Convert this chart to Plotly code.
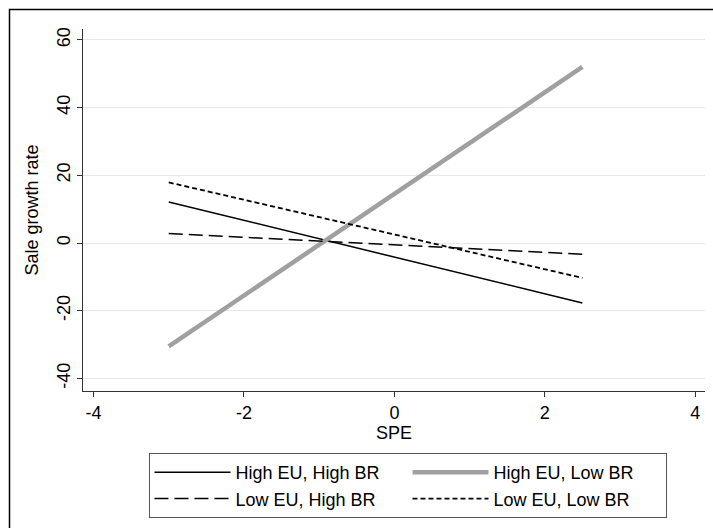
import plotly.graph_objects as go

# Data
spe = [-3, 2.5]
high_eu_high_br = [12.1, -17.7]
high_eu_low_br = [-30.5, 52.0]
low_eu_high_br = [2.8, -3.3]
low_eu_low_br = [17.9, -10.3]

x_ticks = [-4, -2, 0, 2, 4]
y_ticks = [-40, -20, 0, 20, 40, 60]

FONT = "Liberation Sans, Arial, sans-serif"
FS = 18

fig = go.Figure()
fig.add_trace(go.Scatter(x=spe, y=high_eu_high_br, mode="lines", name="High EU, High BR",
                         line=dict(color="black", width=1.5)))
fig.add_trace(go.Scatter(x=spe, y=high_eu_low_br, mode="lines", name="High EU, Low BR",
                         line=dict(color="#a0a0a0", width=4.5)))
fig.add_trace(go.Scatter(x=spe, y=low_eu_high_br, mode="lines", name="Low EU, High BR",
                         line=dict(color="black", width=1.5, dash="14px,6px")))
fig.add_trace(go.Scatter(x=spe, y=low_eu_low_br, mode="lines", name="Low EU, Low BR",
                         line=dict(color="black", width=1.8, dash="5px,3px")))

W, H = 713, 528
L, R, T, B = 83, 8, 29, 137
pw, ph = W - L - R, H - T - B

def px(xp):
    return (xp - L) / pw

def py(yp):
    return (H - B - yp) / ph

fig.update_layout(
    width=W, height=H,
    margin=dict(l=L, r=R, t=T, b=B, pad=0, autoexpand=False),
    paper_bgcolor="white", plot_bgcolor="white",
    font=dict(family=FONT, size=FS, color="black"),
    showlegend=True,
    legend=dict(
        orientation="h", xref="container", yref="container",
        x=148.5 / W, y=1 - 453 / H, xanchor="left", yanchor="top",
        entrywidth=167, itemwidth=76,
        bordercolor="#555555", borderwidth=1, bgcolor="white",
        font=dict(family=FONT, size=FS, color="black"),
        tracegroupgap=0,
    ),
    xaxis=dict(
        range=[-4.14, 4.13], tickvals=x_ticks, ticktext=[str(v) for v in x_ticks],
        showgrid=False, zeroline=False, showline=True, linecolor="#333333", linewidth=1,
        ticks="outside", ticklen=5, tickcolor="#333333",
        tickfont=dict(family=FONT, size=FS),
        title=dict(text="SPE", font=dict(family=FONT, size=FS), standoff=3),
    ),
    yaxis=dict(
        range=[-43.7, 63.2], tickvals=y_ticks, ticktext=[str(v) for v in y_ticks],
        showgrid=True, gridcolor="#e4e9ea", gridwidth=1.2,
        zeroline=False, showline=True, linecolor="#333333", linewidth=1,
        ticks="outside", ticklen=5, tickcolor="#333333", tickangle=-90,
        tickfont=dict(family=FONT, size=FS),
        title=dict(text="Sale growth rate", font=dict(family=FONT, size=FS), standoff=10),
    ),
    shapes=[dict(type="rect", xref="paper", yref="paper",
                 x0=px(9.5), x1=px(716), y0=py(531), y1=py(9.5),
                 line=dict(color="black", width=1.5), fillcolor="rgba(0,0,0,0)", layer="below")],
)

fig.write_html("out.html")
